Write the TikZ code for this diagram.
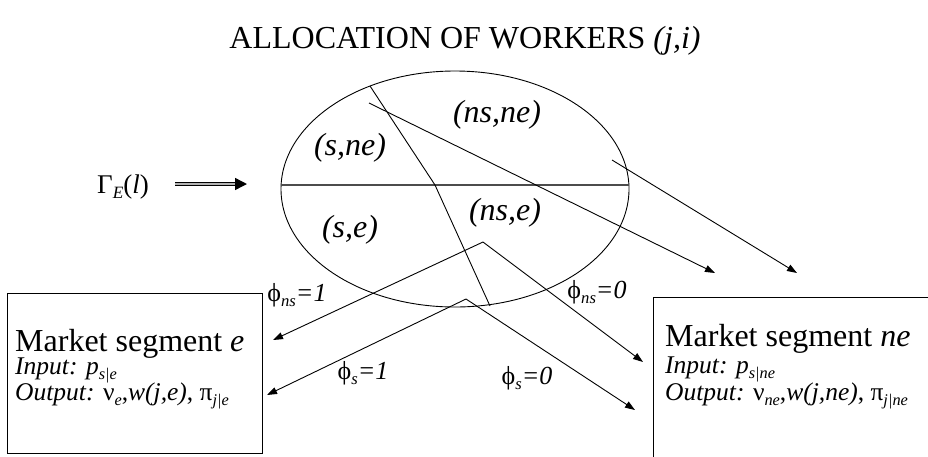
\documentclass[tikz,border=0pt]{standalone}
\usepackage{fontspec}
\setmainfont{Liberation Serif}
\usetikzlibrary{arrows.meta,shapes.geometric}
\newcommand\fsz[1]{\fontsize{#1}{#1}\selectfont}
\makeatletter
\newcommand\sbx[1]{\raisebox{-0.2em}{\fontsize{\fpeval{0.64*\f@size}}{0}\selectfont\itshape #1}}
\makeatother
\tikzset{
  ln/.style={line width=0.9pt},
  arr/.style={line width=0.9pt,-{Triangle[length=10pt,width=7pt]}},
  lbl/.style={inner sep=0pt, font=\fsz{32}\itshape},
  phil/.style={inner sep=0pt, font=\fsz{26}},
  box/.style={draw, line width=1pt, inner sep=0pt, anchor=north west},
  big/.style={inner sep=0pt, anchor=base west, font=\fsz{32}},
  small/.style={inner sep=0pt, anchor=base west, font=\fsz{25.5}},
}
\begin{document}
\begin{tikzpicture}[x=1pt,y=-1pt]
\useasboundingbox (0,0) rectangle (928,456);
% title
\node[inner sep=0pt, font=\fsz{32}] (title) at (465,41) {ALLOCATION OF WORKERS \textit{(j,i)}};
% Gamma input
\node[inner sep=0pt, font=\fsz{27}] (gam) at (123,187) {Γ\sbx{E}(\textit{l})};
\coordinate (ga1) at (175,184);
\coordinate (ga2) at (247,184);
\draw[line width=1.4pt, double=gray!60, double distance=1.4pt, -{Triangle[length=12pt,width=12pt]}] (ga1) -- (ga2);
% ellipse
\node[ellipse, draw, ln, minimum width=348pt, minimum height=236pt, inner sep=0pt] (ell) at (455,189) {};
\coordinate (c1) at (281,185);
\coordinate (c2) at (629,185);
\draw[line width=2pt, black!70] (c1) -- (c2);
\coordinate (d1) at (370,86);
\coordinate (d2) at (435,185);
\coordinate (d3) at (490,306);
\draw[ln] (d1) -- (d2) -- (d3);
% region labels
\node[lbl] (sne) at (350,148) {(s,ne)};
\node[lbl] (nsne) at (497,115) {(ns,ne)};
\node[lbl] (se) at (350,230) {(s,e)};
\node[lbl] (nse) at (505,213) {(ns,e)};
% boxes
\node[box, minimum width=255pt, minimum height=160pt] (boxe) at (7,293) {};
\node[inner sep=0pt, anchor=north west, minimum width=276pt, minimum height=162pt] (boxne) at (653,297) {};
\draw[line width=1pt] (boxne.north east) -- (boxne.north west) -- (boxne.south west);
% box texts
\node[big] (me) at (15,351) {Market segment \textit{e}};
\node[small] (ie) at (15,374) {\textit{Input:} \textit{p}\sbx{s|e}};
\node[small] (oe) at (15,400) {\textit{Output:} ν\sbx{e},\textit{w(j,e)}, π\sbx{j|e}};
\node[big] (mne) at (665,346) {Market segment \textit{ne}};
\node[small] (ine) at (665,373) {\textit{Input:} \textit{p}\sbx{s|ne}};
\node[small] (one) at (665,400) {\textit{Output:} ν\sbx{ne},\textit{w(j,ne)}, π\sbx{j|ne}};
% arrows from top
\coordinate (a1) at (369,103);
\coordinate (t1) at (715,273);
\coordinate (a2) at (612,160);
\coordinate (t2) at (797,273);
\draw[arr] (a1) -- (t1);
\draw[arr] (a2) -- (t2);
% peaks
\coordinate (p1) at (483,242);
\coordinate (t3) at (273,340);
\coordinate (t4) at (643,362);
\coordinate (p2) at (466,299);
\coordinate (t5) at (267,395);
\coordinate (t6) at (635,410);
\draw[arr] (p1) -- (t3);
\draw[arr] (p1) -- (t4);
\draw[arr] (p2) -- (t5);
\draw[arr] (p2) -- (t6);
% phi labels
\node[phil] (f1) at (297,295) {\char"03D5\sbx{ns}\textit{=1}};
\node[phil] (f2) at (597,292) {\char"03D5\sbx{ns}\textit{=0}};
\node[phil] (f3) at (363,373) {\char"03D5\sbx{s}\textit{=1}};
\node[phil] (f4) at (527,378) {\char"03D5\sbx{s}\textit{=0}};
\end{tikzpicture}
\end{document}
